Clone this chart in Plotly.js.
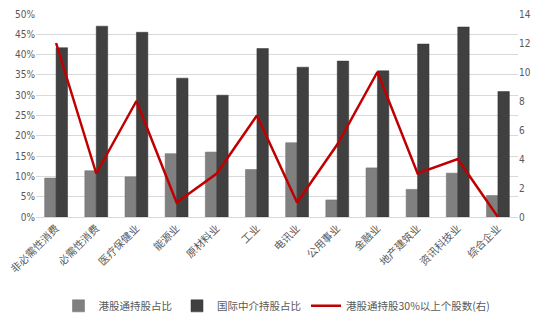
<!DOCTYPE html>
<html><head><meta charset="utf-8">
<script src="https://cdn.plot.ly/plotly-3.0.1.min.js"></script>
<style>html,body{margin:0;padding:0;background:#fff}#c{width:550px;height:324px}</style>
</head><body><div id="c"></div>
<script>
const categories = ["非必需性消费","必需性消费","医疗保健业","能源业","原材料业","工业","电讯业","公用事业","金融业","地产建筑业","资讯科技业","综合企业"];
const hkConnectShare = [9.6, 11.4, 9.9, 15.6, 16.0, 11.7, 18.3, 4.2, 12.1, 6.8, 10.8, 5.3];
const intlBrokerShare = [41.7, 47.0, 45.5, 34.2, 30.0, 41.5, 36.9, 38.4, 36.0, 42.6, 46.8, 30.9];
const stocksAbove30 = [12, 3, 8, 1, 3, 7, 1, 5, 10, 3, 4, 0];
const leftTicks = [0,5,10,15,20,25,30,35,40,45,50];
const rightTicks = [0,2,4,6,8,10,12,14];

const cjk = '"Noto Sans CJK SC", "Noto Sans", sans-serif';
const num = '"Liberation Sans Narrow", "DejaVu Sans Condensed", sans-serif';
const traces = [
  {type:'bar', name:'港股通持股占比', x:categories, y:hkConnectShare, marker:{color:'#808080', line:{color:'#6e6e6e', width:0.5}}},
  {type:'bar', name:'国际中介持股占比', x:categories, y:intlBrokerShare, marker:{color:'#404040', line:{color:'#333', width:0.5}}},
  {type:'scatter', mode:'lines', name:'港股通持股30%以上个股数(右)', x:categories, y:stocksAbove30, yaxis:'y2', line:{color:'#c00000', width:2.5}}
];
const layout = {
  width:550, height:324,
  margin:{l:36, r:32, t:14, b:107, autoexpand:false},
  paper_bgcolor:'#fff', plot_bgcolor:'#fff',
  barmode:'group', bargap:0.43, bargroupgap:0,
  showlegend:true,
  legend:{orientation:'h', x:0.5, xanchor:'center', yref:'container', y:0.056, yanchor:'middle', font:{family:cjk, size:10.5, color:'#595959'}, traceorder:'normal', itemwidth:30},
  xaxis:{automargin:false, tickangle:-45, tickfont:{family:cjk, size:10.5, color:'#595959'}, showline:true, linecolor:'#d9d9d9', linewidth:1, ticks:'', showgrid:false},
  yaxis:{automargin:false, range:[0,50], tickvals:leftTicks, ticktext:leftTicks.map(v=>v+'%'), tickfont:{family:num, size:10, color:'#595959'}, gridcolor:'#d9d9d9', gridwidth:1, zeroline:false, ticks:''},
  yaxis2:{automargin:false, range:[0,14], tickvals:rightTicks, overlaying:'y', side:'right', showgrid:false, zeroline:false, tickfont:{family:num, size:10, color:'#595959'}, ticks:''}
};
Plotly.newPlot('c', traces, layout, {displayModeBar:false, staticPlot:true});
</script></body></html>
